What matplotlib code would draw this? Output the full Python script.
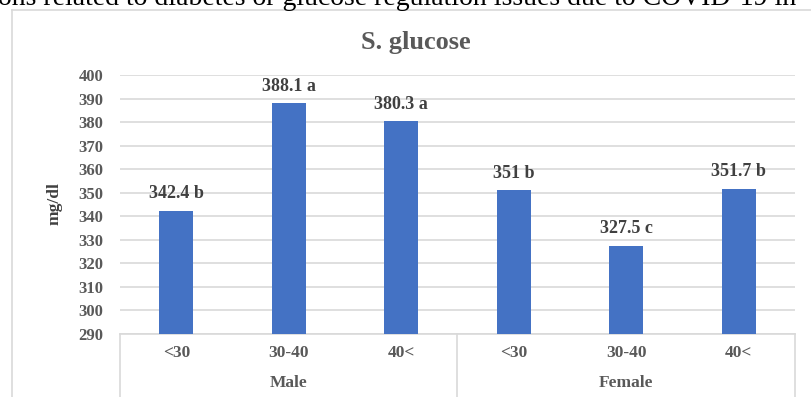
import numpy as np
import matplotlib.pyplot as plt
from matplotlib.lines import Line2D

plt.rcParams['font.family'] = ['Liberation Serif', 'DejaVu Serif']

# serum glucose by sex and age band
groups = ["Male", "Female"]
ages = ["<30", "30-40", "40<"]
glucose = [342.4, 388.1, 380.3, 351.0, 327.5, 351.7]
letters = ["b", "a", "a", "b", "c", "b"]
value_text = ["342.4", "388.1", "380.3", "351", "327.5", "351.7"]
y_ticks = list(range(290, 401, 10))

W, H = 812, 397
fig = plt.figure(figsize=(W / 100, H / 100), dpi=100)

def fx(px):
    return px / W

def fy(py):
    return 1 - py / H

grid_c = "#d9d9d9"
text_c = "#595959"

# outer chart frame
fig.add_artist(Line2D([fx(12), fx(12)], [fy(10), fy(400)], color=grid_c, lw=1.2))
fig.add_artist(Line2D([fx(12), fx(815)], [fy(10), fy(10)], color=grid_c, lw=1.2))

# running caption from the surrounding page
fig.text(fx(-2), fy(5), "ons related to diabetes or glucose regulation issues due to COVID-19 in",
         fontsize=20, color="black", ha="left", va="baseline")

ax = fig.add_axes([fx(120), fy(334), fx(795) - fx(120), fy(75) - fy(334)])
x = np.arange(len(glucose))
bars = ax.bar(x, glucose, width=0.3, color="#4472C4", zorder=3)
ax.set_xlim(-0.5, len(glucose) - 0.5)
ax.set_ylim(290, 400)
ax.set_yticks(y_ticks)
ax.set_yticklabels([str(t) for t in y_ticks], fontsize=12, fontweight="bold", color=text_c)
ax.tick_params(axis="y", length=0, pad=12)
ax.set_xticks([])
ax.grid(axis="y", color=grid_c, lw=1.2, zorder=0)
for s in ["left", "right", "top"]:
    ax.spines[s].set_visible(False)
ax.spines["bottom"].set_color(grid_c)
ax.spines["bottom"].set_linewidth(1.2)

for xi, v, t, l in zip(x, glucose, value_text, letters):
    ax.annotate(f"{t} {l}", (xi, v), xytext=(0, 6), textcoords="offset points",
                ha="center", va="bottom", fontsize=13, fontweight="bold", color="#404040")

# two-level category axis
for i, a in enumerate(ages * len(groups)):
    ax.text(i, -0.072, a, transform=ax.get_xaxis_transform(), ha="center", va="center",
            fontsize=12.5, fontweight="bold", color=text_c)
for g, name in enumerate(groups):
    ax.text(g * 3 + 1, -0.19, name, transform=ax.get_xaxis_transform(), ha="center", va="center",
            fontsize=12.5, fontweight="bold", color=text_c)
for xs in [-0.5, 2.5, 5.5]:
    ax.plot([xs, xs], [0, -0.4], transform=ax.get_xaxis_transform(), color=grid_c, lw=1.2,
            clip_on=False)

fig.text(fx(55), fy(204), "mg/dl", rotation=90, fontsize=12.5, fontweight="bold",
         color="#404040", ha="center", va="center")

fig.text(fx(416), fy(42), "S. glucose", fontsize=19, fontweight="bold", color=text_c,
         ha="center", va="center")

fig.savefig("out.png", dpi=100)
